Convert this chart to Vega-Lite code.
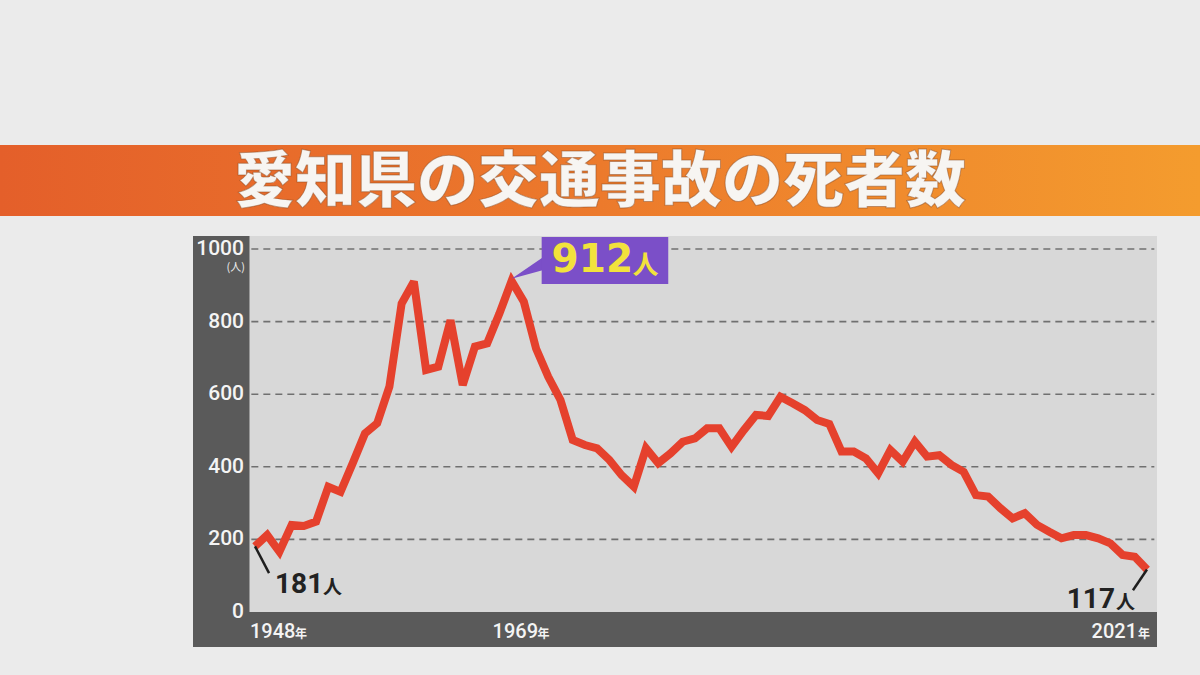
{
  "$schema": "https://vega.github.io/schema/vega-lite/v6.json",
  "width": 1200,
  "height": 675,
  "autosize": "none",
  "padding": 0,
  "background": "#ebebeb",
  "config": {"view": {"stroke": null}},
  "data": {"values": [{"note": "annotation"}]},
  "datasets": {
    "deaths": [
      {"year": 1948, "deaths": 181}, {"year": 1949, "deaths": 212}, {"year": 1950, "deaths": 166},
      {"year": 1951, "deaths": 240}, {"year": 1952, "deaths": 237}, {"year": 1953, "deaths": 249},
      {"year": 1954, "deaths": 345}, {"year": 1955, "deaths": 331}, {"year": 1956, "deaths": 410},
      {"year": 1957, "deaths": 492}, {"year": 1958, "deaths": 520}, {"year": 1959, "deaths": 621},
      {"year": 1960, "deaths": 850}, {"year": 1961, "deaths": 910}, {"year": 1962, "deaths": 667},
      {"year": 1963, "deaths": 676}, {"year": 1964, "deaths": 804}, {"year": 1965, "deaths": 625},
      {"year": 1966, "deaths": 731}, {"year": 1967, "deaths": 740}, {"year": 1968, "deaths": 822},
      {"year": 1969, "deaths": 912}, {"year": 1970, "deaths": 855}, {"year": 1971, "deaths": 726},
      {"year": 1972, "deaths": 648}, {"year": 1973, "deaths": 584}, {"year": 1974, "deaths": 474},
      {"year": 1975, "deaths": 460}, {"year": 1976, "deaths": 451}, {"year": 1977, "deaths": 419},
      {"year": 1978, "deaths": 377}, {"year": 1979, "deaths": 345}, {"year": 1980, "deaths": 451},
      {"year": 1981, "deaths": 410}, {"year": 1982, "deaths": 437}, {"year": 1983, "deaths": 469},
      {"year": 1984, "deaths": 478}, {"year": 1985, "deaths": 506}, {"year": 1986, "deaths": 506},
      {"year": 1987, "deaths": 455}, {"year": 1988, "deaths": 501}, {"year": 1989, "deaths": 543},
      {"year": 1990, "deaths": 540}, {"year": 1991, "deaths": 593}, {"year": 1992, "deaths": 575},
      {"year": 1993, "deaths": 556}, {"year": 1994, "deaths": 529}, {"year": 1995, "deaths": 518},
      {"year": 1996, "deaths": 442}, {"year": 1997, "deaths": 442}, {"year": 1998, "deaths": 423},
      {"year": 1999, "deaths": 382}, {"year": 2000, "deaths": 446}, {"year": 2001, "deaths": 414},
      {"year": 2002, "deaths": 469}, {"year": 2003, "deaths": 428}, {"year": 2004, "deaths": 432},
      {"year": 2005, "deaths": 405}, {"year": 2006, "deaths": 386}, {"year": 2007, "deaths": 322},
      {"year": 2008, "deaths": 318}, {"year": 2009, "deaths": 286}, {"year": 2010, "deaths": 258},
      {"year": 2011, "deaths": 272}, {"year": 2012, "deaths": 240}, {"year": 2013, "deaths": 221},
      {"year": 2014, "deaths": 203}, {"year": 2015, "deaths": 212}, {"year": 2016, "deaths": 212},
      {"year": 2017, "deaths": 203}, {"year": 2018, "deaths": 189}, {"year": 2019, "deaths": 157},
      {"year": 2020, "deaths": 152}, {"year": 2021, "deaths": 117}
    ],
    "ticks": [{"v": 0}, {"v": 200}, {"v": 400}, {"v": 600}, {"v": 800}, {"v": 1000}],
    "pointer": [
      {"px": 1969, "lo": 918, "hi": 918},
      {"px": 1971.6, "lo": 942, "hi": 978}
    ]
  },
  "layer": [
    {
      "mark": {"type": "rect", "color": {"gradient": "linear", "x1": 0, "y1": 0, "x2": 1, "y2": 0,
        "stops": [{"offset": 0, "color": "#e45f2a"}, {"offset": 0.5, "color": "#ec7a2c"}, {"offset": 1, "color": "#f49c2e"}]}},
      "encoding": {
        "x": {"datum": 1927.131, "type": "quantitative", "axis": null,
              "scale": {"domain": [1927.131, 2025.337], "nice": false, "zero": false}},
        "x2": {"datum": 2025.337},
        "y": {"datum": 1090.9, "type": "quantitative", "axis": null,
              "scale": {"domain": [-173.55, 1685.95], "nice": false, "zero": false}},
        "y2": {"datum": 1286.5}
      }
    },
    {
      "mark": {"type": "rect", "color": "#5a5a5a"},
      "encoding": {
        "x": {"datum": 1942.926, "type": "quantitative"},
        "x2": {"datum": 2021.818},
        "y": {"datum": -96.4, "type": "quantitative"},
        "y2": {"datum": 1035.8}
      }
    },
    {
      "mark": {"type": "rect", "color": "#d8d8d8"},
      "encoding": {
        "x": {"datum": 1947.55, "type": "quantitative"},
        "x2": {"datum": 2021.818},
        "y": {"datum": 0, "type": "quantitative"},
        "y2": {"datum": 1035.8}
      }
    },
    {
      "data": {"name": "ticks"},
      "transform": [{"filter": "datum.v > 0"}],
      "mark": {"type": "rule", "color": "#707070", "strokeWidth": 1.6, "strokeDash": [7, 5]},
      "encoding": {
        "x": {"datum": 1947.7, "type": "quantitative"},
        "x2": {"datum": 2021.6},
        "y": {"field": "v", "type": "quantitative"}
      }
    },
    {
      "data": {"name": "deaths"},
      "mark": {"type": "line", "color": "#e5412d", "strokeWidth": 8, "strokeJoin": "miter", "strokeMiterLimit": 3},
      "encoding": {
        "x": {"field": "year", "type": "quantitative"},
        "y": {"field": "deaths", "type": "quantitative"}
      }
    },
    {
      "mark": {"type": "rule", "color": "#1e1e1e", "strokeWidth": 2.5},
      "encoding": {
        "x": {"datum": 1948, "type": "quantitative"},
        "x2": {"datum": 1949.15},
        "y": {"datum": 181, "type": "quantitative"},
        "y2": {"datum": 107}
      }
    },
    {
      "mark": {"type": "rule", "color": "#1e1e1e", "strokeWidth": 2.5},
      "encoding": {
        "x": {"datum": 2021, "type": "quantitative"},
        "x2": {"datum": 2019.85},
        "y": {"datum": 117, "type": "quantitative"},
        "y2": {"datum": 60}
      }
    },
    {
      "mark": {"type": "text", "text": "181", "font": "Roboto", "fontWeight": "bold", "fontSize": 28, "color": "#222222", "align": "left", "baseline": "alphabetic", "dx": 20, "dy": 47},
      "encoding": {"x": {"datum": 1948, "type": "quantitative"}, "y": {"datum": 181, "type": "quantitative"}}
    },
    {
      "mark": {"type": "text", "text": "人", "font": "Noto Sans CJK JP", "fontWeight": "bold", "fontSize": 19, "color": "#222222", "align": "left", "baseline": "alphabetic", "dx": 68, "dy": 48},
      "encoding": {"x": {"datum": 1948, "type": "quantitative"}, "y": {"datum": 181, "type": "quantitative"}}
    },
    {
      "mark": {"type": "text", "text": "117", "font": "Roboto", "fontWeight": "bold", "fontSize": 28, "color": "#222222", "align": "right", "baseline": "alphabetic", "dx": -32, "dy": 38},
      "encoding": {"x": {"datum": 2021, "type": "quantitative"}, "y": {"datum": 117, "type": "quantitative"}}
    },
    {
      "mark": {"type": "text", "text": "人", "font": "Noto Sans CJK JP", "fontWeight": "bold", "fontSize": 19, "color": "#222222", "align": "left", "baseline": "alphabetic", "dx": -31, "dy": 39},
      "encoding": {"x": {"datum": 2021, "type": "quantitative"}, "y": {"datum": 117, "type": "quantitative"}}
    },
    {
      "data": {"name": "pointer"},
      "mark": {"type": "area", "color": "#7b4fc8", "orient": "vertical"},
      "encoding": {
        "x": {"field": "px", "type": "quantitative"},
        "y": {"field": "lo", "type": "quantitative"},
        "y2": {"field": "hi"}
      }
    },
    {
      "mark": {"type": "rect", "color": "#7b4fc8"},
      "encoding": {
        "x": {"datum": 1971.46, "type": "quantitative"},
        "x2": {"datum": 1981.82},
        "y": {"datum": 903.6, "type": "quantitative"},
        "y2": {"datum": 1033}
      }
    },
    {
      "mark": {"type": "text", "text": "912", "font": "DejaVu Sans", "fontWeight": "bold", "fontSize": 39, "color": "#f2e23c", "align": "left", "baseline": "alphabetic", "dx": 40, "dy": -9},
      "encoding": {"x": {"datum": 1969, "type": "quantitative"}, "y": {"datum": 912, "type": "quantitative"}}
    },
    {
      "mark": {"type": "text", "text": "人", "font": "Noto Sans CJK JP", "fontWeight": "bold", "fontSize": 26, "color": "#f2e23c", "align": "left", "baseline": "alphabetic", "dx": 121, "dy": -7},
      "encoding": {"x": {"datum": 1969, "type": "quantitative"}, "y": {"datum": 912, "type": "quantitative"}}
    },
    {
      "data": {"name": "ticks"},
      "mark": {"type": "text", "font": "Roboto", "fontWeight": 500, "fontSize": 21, "color": "#f4f4f4", "align": "right", "baseline": "middle", "dx": -11, "dy": 0},
      "encoding": {
        "x": {"datum": 1948, "type": "quantitative"},
        "y": {"field": "v", "type": "quantitative"},
        "text": {"field": "v", "type": "quantitative", "format": "d"}
      }
    },
    {
      "mark": {"type": "text", "text": "(人)", "font": "Noto Sans CJK JP", "fontSize": 11, "color": "#eeeeee", "align": "right", "baseline": "middle", "dx": -10, "dy": 19},
      "encoding": {"x": {"datum": 1948, "type": "quantitative"}, "y": {"datum": 1000, "type": "quantitative"}}
    },
    {
      "mark": {"type": "text", "text": "1948", "font": "Roboto", "fontWeight": 500, "fontSize": 20, "color": "#f4f4f4", "align": "left", "baseline": "middle", "dx": -5},
      "encoding": {"x": {"datum": 1948, "type": "quantitative"}, "y": {"datum": -55, "type": "quantitative"}}
    },
    {
      "mark": {"type": "text", "text": "年", "font": "Noto Sans CJK JP", "fontWeight": "bold", "fontSize": 12, "color": "#f4f4f4", "align": "left", "baseline": "middle", "dx": 40, "dy": 2},
      "encoding": {"x": {"datum": 1948, "type": "quantitative"}, "y": {"datum": -55, "type": "quantitative"}}
    },
    {
      "mark": {"type": "text", "text": "1969", "font": "Roboto", "fontWeight": 500, "fontSize": 20, "color": "#f4f4f4", "align": "left", "baseline": "middle", "dx": -19},
      "encoding": {"x": {"datum": 1969, "type": "quantitative"}, "y": {"datum": -55, "type": "quantitative"}}
    },
    {
      "mark": {"type": "text", "text": "年", "font": "Noto Sans CJK JP", "fontWeight": "bold", "fontSize": 12, "color": "#f4f4f4", "align": "left", "baseline": "middle", "dx": 26, "dy": 2},
      "encoding": {"x": {"datum": 1969, "type": "quantitative"}, "y": {"datum": -55, "type": "quantitative"}}
    },
    {
      "mark": {"type": "text", "text": "2021", "font": "Roboto", "fontWeight": 500, "fontSize": 20, "color": "#f4f4f4", "align": "right", "baseline": "middle", "dx": -10},
      "encoding": {"x": {"datum": 2021, "type": "quantitative"}, "y": {"datum": -55, "type": "quantitative"}}
    },
    {
      "mark": {"type": "text", "text": "年", "font": "Noto Sans CJK JP", "fontWeight": "bold", "fontSize": 12, "color": "#f4f4f4", "align": "left", "baseline": "middle", "dx": -9, "dy": 2},
      "encoding": {"x": {"datum": 2021, "type": "quantitative"}, "y": {"datum": -55, "type": "quantitative"}}
    },
    {
      "mark": {"type": "text", "text": "愛知県の交通事故の死者数", "font": "Noto Sans CJK JP", "fontWeight": 900, "fontSize": 61, "color": "#f7f5f2", "stroke": "#8a4a22", "strokeWidth": 1, "strokeOpacity": 0.5, "align": "center", "baseline": "middle"},
      "encoding": {"x": {"datum": 1976.234, "type": "quantitative"}, "y": {"datum": 1180.4, "type": "quantitative"}}
    }
  ]
}
